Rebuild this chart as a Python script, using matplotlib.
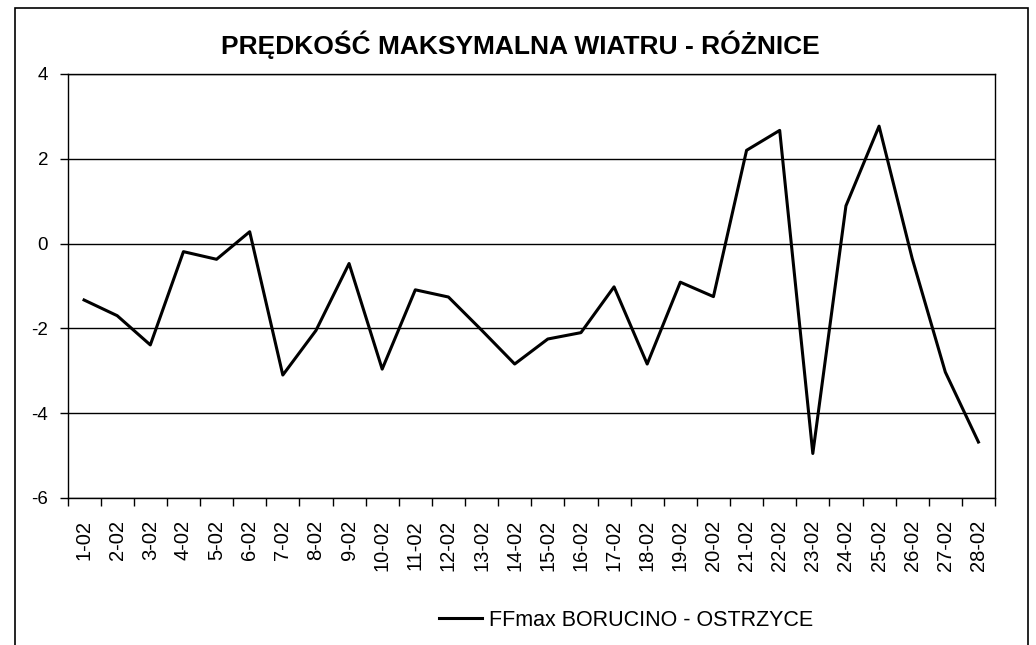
import matplotlib
matplotlib.use('Agg')
import matplotlib.pyplot as plt
from matplotlib.patches import Rectangle

# Days of February
days = ['%d-02' % d for d in range(1, 29)]

# FFmax difference Borucino - Ostrzyce
diff = [-1.33, -1.70, -2.39, -0.19, -0.37, 0.28, -3.10, -2.05, -0.47, -2.96,
        -1.09, -1.26, -2.04, -2.84, -2.25, -2.10, -1.02, -2.84, -0.91, -1.25,
        2.20, 2.67, -4.95, 0.89, 2.77, -0.35, -3.03, -4.68]

yticks = [-6, -4, -2, 0, 2, 4]

plt.rcParams['font.family'] = ['Liberation Sans', 'DejaVu Sans']

fig = plt.figure(figsize=(10.36, 6.45), dpi=100)
ax = fig.add_axes([67.5 / 1036, 1 - 498 / 645, (995 - 67.5) / 1036, (498 - 74) / 645])

x = range(len(days))
ax.plot(x, diff, color='black', linewidth=2.2, label='FFmax BORUCINO - OSTRZYCE')

ax.set_xlim(-0.5, len(days) - 0.5)
ax.set_ylim(-6, 4)
ax.set_yticks(yticks)
ax.set_yticklabels([str(v) for v in yticks], fontsize=13.5)
ax.set_xticks(list(x))
ax.set_xticklabels(days, rotation=90, fontsize=14.5)
ax.set_xticks([i - 0.5 for i in range(len(days) + 1)], minor=True)
ax.tick_params(axis='x', which='major', length=0, pad=16)
ax.tick_params(axis='x', which='minor', length=6, direction='out', width=1)
ax.tick_params(axis='y', length=6, direction='out', width=1, pad=8)
ax.yaxis.grid(True, color='black', linewidth=1)
for s in ax.spines.values():
    s.set_color('black')
    s.set_linewidth(1)

fig.text(0.502, 1 - 45 / 645, 'PRĘDKOŚĆ MAKSYMALNA WIATRU - RÓŻNICE', fontsize=19,
         fontweight='bold', ha='center', va='center')

fig.legend(loc='center', bbox_to_anchor=(626 / 1036, 1 - 620 / 645), frameon=False,
           fontsize=15.5, handlelength=2.0, handletextpad=0.3)

fig.patches.append(Rectangle((15 / 1036, -0.02), (1028 - 15) / 1036, 1 - 8 / 645 + 0.02,
                             transform=fig.transFigure, fill=False,
                             edgecolor='black', linewidth=1.2))

fig.savefig('out.png', dpi=100)
